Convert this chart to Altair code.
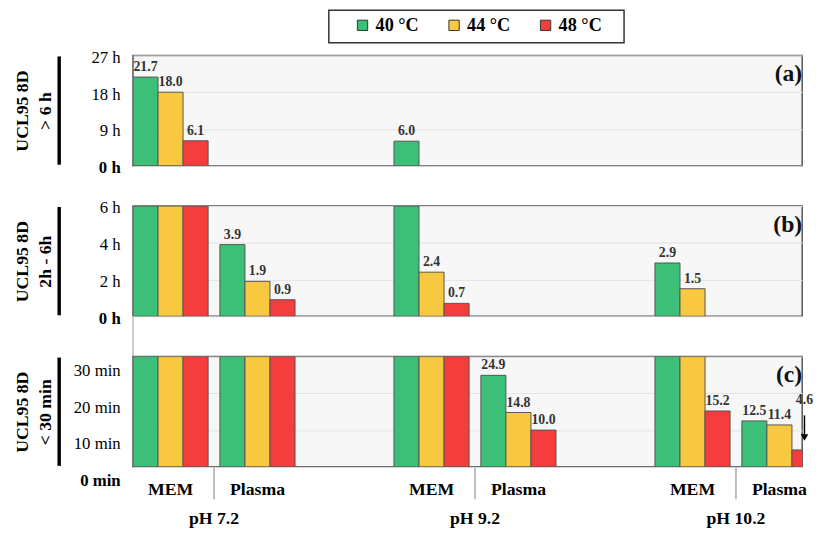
import altair as alt
import pandas as pd

# ---------------- data ----------------
ph_levels = ["pH 7.2", "pH 9.2", "pH 10.2"]
media = ["MEM", "Plasma"]
temps = ["40 °C", "44 °C", "48 °C"]
temp_colors = ["#3cbf76", "#f8c840", "#f53d3d"]

# UCL95 8D, ordered 40 / 44 / 48 °C, with their units
ph72_mem = [21.7, 18.0, 6.1]
ph72_mem_unit = ["h", "h", "h"]
ph72_plasma = [3.9, 1.9, 0.9]
ph72_plasma_unit = ["h", "h", "h"]
ph92_mem = [6.0, 2.4, 0.7]
ph92_mem_unit = ["h", "h", "h"]
ph92_plasma = [24.9, 14.8, 10.0]
ph92_plasma_unit = ["min", "min", "min"]
ph102_mem = [2.9, 1.5, 15.2]
ph102_mem_unit = ["h", "h", "min"]
ph102_plasma = [12.5, 11.4, 4.6]
ph102_plasma_unit = ["min", "min", "min"]

series = [
    ("pH 7.2", "MEM", ph72_mem, ph72_mem_unit),
    ("pH 7.2", "Plasma", ph72_plasma, ph72_plasma_unit),
    ("pH 9.2", "MEM", ph92_mem, ph92_mem_unit),
    ("pH 9.2", "Plasma", ph92_plasma, ph92_plasma_unit),
    ("pH 10.2", "MEM", ph102_mem, ph102_mem_unit),
    ("pH 10.2", "Plasma", ph102_plasma, ph102_plasma_unit),
]

# ---------------- layout constants ----------------
W = 680
H = 112
BAR_PX = 25.45
PH_STEP = 10.42   # in bar widths
MED_STEP = 3.47   # in bar widths
XMAX = W / BAR_PX
SERIF = "Liberation Serif"

rows = []
for ph, med, vals, units in series:
    for ti, (v, u) in enumerate(zip(vals, units)):
        pi = ph_levels.index(ph)
        mi = media.index(med)
        pos = pi * PH_STEP + mi * MED_STEP + ti
        minutes = v * 60 if u == "h" else v
        rows.append(dict(ph=ph, medium=med, temp=temps[ti], minutes=minutes,
                         hours=minutes / 60, pos=pos, pos2=pos + 1, mid=pos + 0.5))
df = pd.DataFrame(rows)

xlab = pd.DataFrame([dict(medium=m, center=pi * PH_STEP + mi * MED_STEP + 1.5)
                     for pi in range(3) for mi, m in enumerate(media)])
phlab = pd.DataFrame([dict(ph=p, sep=pi * PH_STEP + (3 + MED_STEP) / 2)
                      for pi, p in enumerate(ph_levels)])

xscale = alt.Scale(domain=[0, XMAX], nice=False, zero=False)
legend = alt.Legend(orient="none", legendX=224, legendY=-40, direction="horizontal",
                    title=None, symbolType="square", symbolSize=110,
                    symbolStrokeColor="#333", symbolStrokeWidth=1, symbolOpacity=1,
                    labelFont=SERIF, labelFontSize=18.5, labelFontWeight="bold",
                    labelColor="black", labelOffset=4, columnPadding=26, padding=0)
color = alt.Color("temp:N", scale=alt.Scale(domain=temps, range=temp_colors), legend=legend)


def panel(kind, lo_min, cap, ticks, suffix, title, letter, label_offset=2,
          raise_below=None, bottom=False, top=False, link_below=False):
    d = df[df["minutes"] >= lo_min].copy()
    val = d["hours"] if kind == "h" else d["minutes"]
    d["disp"] = val.clip(upper=cap)
    d["zero"] = 0.0
    d["lab"] = val.map(lambda v: f"{v:.1f}")
    d["showlab"] = (val < cap) if cap < 27 else (val <= cap)
    d["laby"] = d["disp"]
    d["raised"] = False
    if raise_below is not None:
        d["raised"] = d["disp"] < raise_below
        d.loc[d["raised"], "laby"] = 15.6
    d["atop"] = d["laby"] - 1.6
    d["abot"] = d["disp"] + 3.6
    d["ahead"] = d["disp"] + 3.4

    yscale = alt.Scale(domain=[0, cap], nice=False)
    yaxis = alt.Axis(values=ticks, tickCount=10, labelExpr=f"datum.value + ' {suffix}'",
                     labelFont=SERIF, labelFontSize=17,
                     labelFontWeight={"expr": "datum.value == 0 ? 'bold' : 'normal'"},
                     labelColor="black", labelPadding=13, labelOffset=label_offset,
                     labelFlush=False, labelOverlap=False, labelBaseline="middle",
                     domain=False, ticks=False, grid=True, gridColor="#e2e2e2",
                     gridWidth=1,
                     title=title, titleFont=SERIF, titleFontSize=18, titleFontWeight="bold",
                     titleColor="black", titleAngle=270, titleX=-121, titleY=H / 2,
                     titleAlign="center", titleBaseline="top", titleLineHeight=23)

    base = alt.Chart(d)
    bars = base.mark_bar(stroke="#555", strokeWidth=1, clip=True).encode(
        x=alt.X("pos:Q", scale=xscale, axis=None),
        x2="pos2:Q",
        y=alt.Y("disp:Q", scale=yscale, axis=yaxis),
        y2="zero:Q",
        color=color,
    )
    labs = base.transform_filter("datum.showlab").mark_text(
        baseline="bottom", dy=-3, font=SERIF, fontSize=14, fontWeight="bold",
        color="#333").encode(
        x=alt.X("mid:Q", scale=xscale), y=alt.Y("laby:Q", scale=yscale),
        text="lab:N")
    layers = [bars, labs]

    if raise_below is not None:
        arrows = base.transform_filter("datum.raised").mark_rule(
            color="black", strokeWidth=1.5).encode(
            x=alt.X("mid:Q", scale=xscale), y=alt.Y("atop:Q", scale=yscale),
            y2="abot:Q")
        heads = base.transform_filter("datum.raised").mark_point(
            shape="triangle-down", filled=True, color="black", size=60, opacity=1).encode(
            x=alt.X("mid:Q", scale=xscale), y=alt.Y("ahead:Q", scale=yscale))
        layers += [arrows, heads]

    bracket = alt.Chart(pd.DataFrame({"k": [0]})).mark_rule(
        color="black", strokeWidth=3.5).encode(
        x=alt.value(-75), y=alt.value(1), y2=alt.value(H - 1))
    tag = alt.Chart(pd.DataFrame({"t": [letter]})).mark_text(
        align="right", baseline="middle", font=SERIF, fontSize=24, fontWeight="bold",
        color="#111").encode(x=alt.value(W), y=alt.value(19), text="t:N")
    layers += [bracket, tag]

    if link_below:
        link = alt.Chart(pd.DataFrame({"k": [0]})).mark_rule(
            color="#cfcfcf", strokeWidth=2).encode(
            x=alt.value(0), y=alt.value(H), y2=alt.value(H + 42))
        layers.append(link)

    if top:
        box = alt.Chart(pd.DataFrame({"k": [0]})).mark_rect(
            fill="white", stroke="#333", strokeWidth=1.5).encode(
            x=alt.value(199), x2=alt.value(499), y=alt.value(-46), y2=alt.value(-13))
        layers.insert(0, box)

    if bottom:
        med_txt = alt.Chart(xlab).mark_text(
            font=SERIF, fontSize=18, fontWeight="bold", color="black",
            baseline="middle").encode(
            x=alt.X("center:Q", scale=xscale), y=alt.value(H + 24), text="medium:N")
        seps = alt.Chart(phlab).mark_rule(color="#aaaaaa", strokeWidth=1.5).encode(
            x=alt.X("sep:Q", scale=xscale), y=alt.value(H + 1), y2=alt.value(H + 33))
        ph_txt = alt.Chart(phlab).mark_text(
            font=SERIF, fontSize=18, fontWeight="bold", color="black",
            baseline="middle").encode(
            x=alt.X("sep:Q", scale=xscale), y=alt.value(H + 53), text="ph:N")
        layers += [med_txt, seps, ph_txt]

    return alt.layer(*layers).properties(width=W, height=H)


pa = panel("h", 360, 27, [0, 9, 18, 27], "h", ["UCL95 8D", "> 6 h"], "(a)", top=True)
pb = panel("h", 30, 6, [0, 2, 4, 6], "h", ["UCL95 8D", "2h - 6h"], "(b)", link_below=True)
pc = panel("min", 0, 30, [0, 10, 20, 30], "min", ["UCL95 8D", "< 30 min"], "(c)",
           label_offset=14, raise_below=8, bottom=True)

chart = alt.vconcat(pa, pb, pc, spacing=41, bounds="flush").properties(
    padding={"left": 5, "top": -4, "right": 0, "bottom": 0}
).configure_view(fill="#f7f7f7", stroke="#555", strokeWidth=1.5)

chart.save("out.html", embed_options={"renderer": "svg", "actions": False})
